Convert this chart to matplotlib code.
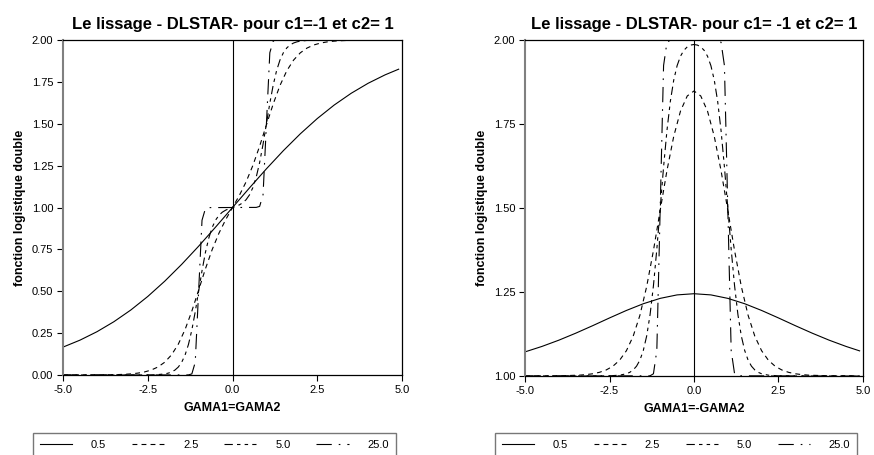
import matplotlib
matplotlib.use("Agg")
import matplotlib.pyplot as plt
from matplotlib.lines import Line2D

plt.rcParams['font.family'] = ['Liberation Sans', 'DejaVu Sans']
plt.rcParams['lines.scale_dashes'] = False

# gamma values of the four curves
gammas = ['0.5', '2.5', '5.0', '25.0']

# left panel : GAMA1 = GAMA2
l_x05 = [-5.0, -4.5, -4.0, -3.5, -3.0, -2.5, -2.0, -1.5, -1.0, -0.5, 0.0,
         0.5, 1.0, 1.5, 2.0, 2.5, 3.0, 3.5, 4.0, 4.5, 4.9]
l_y05 = [0.1666, 0.2081, 0.2583, 0.3181, 0.3881, 0.4689, 0.5600, 0.6605, 0.7689, 0.8830, 1.0,
         1.1170, 1.2311, 1.3395, 1.4400, 1.5311, 1.6119, 1.6819, 1.7417, 1.7919, 1.8257]

l_x25 = [-5.0, -4.0, -3.4, -3.2, -3.0, -2.8, -2.6, -2.4, -2.2, -2.0, -1.8, -1.6, -1.4, -1.2,
         -1.0, -0.8, -0.6, -0.4, -0.2, 0.0, 0.2, 0.4, 0.6, 0.8, 1.0, 1.2, 1.4, 1.6, 1.8,
         2.0, 2.2, 2.4, 2.6, 2.8, 3.0, 3.2, 3.4, 4.0, 4.9]
l_y25 = [0.0, 0.0006, 0.0025, 0.0041, 0.0067, 0.0111, 0.0181, 0.0295, 0.0478, 0.0764,
         0.1201, 0.1839, 0.2714, 0.3816, 0.5067, 0.6335, 0.7490, 0.8469, 0.9282, 1.0,
         1.0718, 1.1531, 1.2510, 1.3665, 1.4933, 1.6184, 1.7286, 1.8161, 1.8799,
         1.9236, 1.9522, 1.9705, 1.9819, 1.9889, 1.9933, 1.9959, 1.9975, 1.9994, 2.0]

l_x50 = [-5.0, -3.0, -2.5, -2.2, -2.0, -1.9, -1.8, -1.7, -1.6, -1.5, -1.4, -1.3, -1.2, -1.1,
         -1.0, -0.9, -0.8, -0.7, -0.6, -0.5, -0.4, -0.3, -0.2, -0.1, 0.0,
         0.1, 0.2, 0.3, 0.4, 0.5, 0.6, 0.7, 0.8, 0.9, 1.0, 1.1, 1.2, 1.3, 1.4, 1.5,
         1.6, 1.7, 1.8, 1.9, 2.0, 2.2, 2.5, 3.0, 4.9]
l_y50 = [0.0, 0.0001, 0.0006, 0.0025, 0.0067, 0.0110, 0.0180, 0.0293, 0.0474, 0.0759,
         0.1192, 0.1824, 0.2689, 0.3775, 0.5000, 0.6225, 0.7312, 0.8178, 0.8811, 0.9247,
         0.9535, 0.9722, 0.9845, 0.9931, 1.0,
         1.0069, 1.0155, 1.0278, 1.0465, 1.0753, 1.1189, 1.1822, 1.2688, 1.3775, 1.5000,
         1.6225, 1.7311, 1.8176, 1.8808, 1.9241, 1.9526, 1.9707, 1.9820, 1.9890, 1.9933,
         1.9975, 1.9994, 1.9999, 2.0]

l_x250 = [-5.0, -1.3, -1.2, -1.1, -1.0, -0.9, -0.8, -0.7, 0.7, 0.8, 0.9, 1.0, 1.1, 1.2, 1.3, 4.9]
l_y250 = [0.0, 0.0006, 0.0067, 0.0759, 0.5, 0.9241, 0.9933, 0.9994,
          1.0006, 1.0067, 1.0759, 1.5, 1.9241, 1.9933, 1.9994, 2.0]

# right panel : GAMA1 = -GAMA2
r_x05 = [-5.0, -4.5, -4.0, -3.5, -3.0, -2.5, -2.0, -1.5, -1.0, -0.5, 0.0,
         0.5, 1.0, 1.5, 2.0, 2.5, 3.0, 3.5, 4.0, 4.5, 4.9]
r_y05 = [1.0718, 1.0880, 1.1066, 1.1274, 1.1497, 1.1728, 1.1951, 1.2151, 1.2311, 1.2414, 1.2449,
         1.2414, 1.2311, 1.2151, 1.1951, 1.1728, 1.1497, 1.1274, 1.1066, 1.0880, 1.0748]

r_x25 = [-5.0, -4.0, -3.4, -3.2, -3.0, -2.8, -2.6, -2.4, -2.2, -2.0, -1.8, -1.6, -1.4, -1.2,
         -1.0, -0.8, -0.6, -0.4, -0.2, 0.0, 0.2, 0.4, 0.6, 0.8, 1.0, 1.2, 1.4, 1.6, 1.8,
         2.0, 2.2, 2.4, 2.6, 2.8, 3.0, 3.2, 3.4, 4.0, 4.9]
r_y25 = [1.0, 1.0006, 1.0025, 1.0041, 1.0066, 1.0109, 1.0179, 1.0291, 1.0471, 1.0753,
         1.1183, 1.1809, 1.2665, 1.3735, 1.4933, 1.6115, 1.7131, 1.7883, 1.8334, 1.8483,
         1.8334, 1.7883, 1.7131, 1.6115, 1.4933, 1.3735, 1.2665, 1.1809, 1.1183,
         1.0753, 1.0471, 1.0291, 1.0179, 1.0109, 1.0066, 1.0041, 1.0025, 1.0006, 1.0]

r_x50 = [-5.0, -3.0, -2.5, -2.2, -2.0, -1.9, -1.8, -1.7, -1.6, -1.5, -1.4, -1.3, -1.2, -1.1,
         -1.0, -0.9, -0.8, -0.7, -0.6, -0.5, -0.4, -0.3, -0.2, -0.1, 0.0,
         0.1, 0.2, 0.3, 0.4, 0.5, 0.6, 0.7, 0.8, 0.9, 1.0, 1.1, 1.2, 1.3, 1.4, 1.5,
         1.6, 1.7, 1.8, 1.9, 2.0, 2.2, 2.5, 3.0, 4.9]
r_y50 = [1.0, 1.0001, 1.0006, 1.0025, 1.0067, 1.0110, 1.0180, 1.0293, 1.0474, 1.0759,
         1.1192, 1.1824, 1.2689, 1.3775, 1.5000, 1.6224, 1.7309, 1.8174, 1.8805, 1.9236,
         1.9517, 1.9692, 1.9795, 1.9849, 1.9866,
         1.9849, 1.9795, 1.9692, 1.9517, 1.9236, 1.8805, 1.8174, 1.7309, 1.6224, 1.5000,
         1.3775, 1.2689, 1.1824, 1.1192, 1.0759, 1.0474, 1.0293, 1.0180, 1.0110, 1.0067,
         1.0025, 1.0006, 1.0001, 1.0]

r_x250 = [-5.0, -1.3, -1.2, -1.1, -1.0, -0.9, -0.8, -0.7, 0.0, 0.7, 0.8, 0.9, 1.0, 1.1, 1.2, 1.3, 4.9]
r_y250 = [1.0, 1.0006, 1.0067, 1.0759, 1.5, 1.9241, 1.9933, 1.9994, 1.9994,
          1.9994, 1.9933, 1.9241, 1.5, 1.0759, 1.0067, 1.0006, 1.0]

styles = ['-', (0, (3.5, 3)), (0, (6, 3, 2.5, 3, 2.5, 3)), (0, (11, 5, 1.2, 5))]

fig = plt.figure(figsize=(8.74, 4.55), dpi=100)
ax1 = fig.add_axes([0.0721, 0.1758, 0.3879, 0.7363])
ax2 = fig.add_axes([0.6007, 0.1736, 0.3867, 0.7385])

panels = [
    (ax1, [(l_x05, l_y05), (l_x25, l_y25), (l_x50, l_y50), (l_x250, l_y250)],
     'Le lissage - DLSTAR- pour c1=-1 et c2= 1', 'GAMA1=GAMA2', 0.0),
    (ax2, [(r_x05, r_y05), (r_x25, r_y25), (r_x50, r_y50), (r_x250, r_y250)],
     'Le lissage - DLSTAR- pour c1= -1 et c2= 1', 'GAMA1=-GAMA2', 1.0),
]

for ax, curves, title, xlab, ymin in panels:
    for (xs, ys), ls in zip(curves, styles):
        ax.plot(xs, ys, color='black', lw=0.8, linestyle=ls)
    ax.axvline(0, color='black', lw=0.8)
    ax.set_xlim(-5, 5)
    ax.set_ylim(ymin, 2.0)
    ax.set_xticks([-5.0, -2.5, 0.0, 2.5, 5.0])
    ax.set_xticklabels(['%.1f' % t for t in [-5.0, -2.5, 0.0, 2.5, 5.0]])
    yt = [ymin + 0.25 * i for i in range(int(round((2.0 - ymin) / 0.25)) + 1)]
    ax.set_yticks(yt)
    ax.set_yticklabels(['%.2f' % t for t in yt])
    ax.tick_params(direction='out', length=4, width=0.8, labelsize=8, pad=3, colors='black')
    for s in ['top', 'right', 'bottom']:
        ax.spines[s].set_linewidth(0.9)
    ax.spines['left'].set_color('#808080')
    ax.spines['left'].set_linewidth(1.5)
    ax.set_title(title, fontsize=12, fontweight='bold', pad=8)
    ax.set_xlabel(xlab, fontsize=9, fontweight='bold', labelpad=5)
    ax.set_ylabel('fonction logistique double', fontsize=9, fontweight='bold', labelpad=4)

handles = [Line2D([], [], color='black', lw=0.8, linestyle=ls) for ls in styles]
for x0, w in [(0.0378, 0.415), (0.5664, 0.4142)]:
    leg = fig.legend(handles, gammas, loc='upper left', bbox_to_anchor=(x0, -0.06, w, 0.108),
                     mode='expand', ncol=4, fontsize=8, frameon=True, fancybox=False,
                     handlelength=2.9, handletextpad=1.7, borderpad=0.6, borderaxespad=0)
    leg.get_frame().set_edgecolor('#555555')
    leg.get_frame().set_linewidth(1.0)

fig.savefig('out.png', dpi=100)
